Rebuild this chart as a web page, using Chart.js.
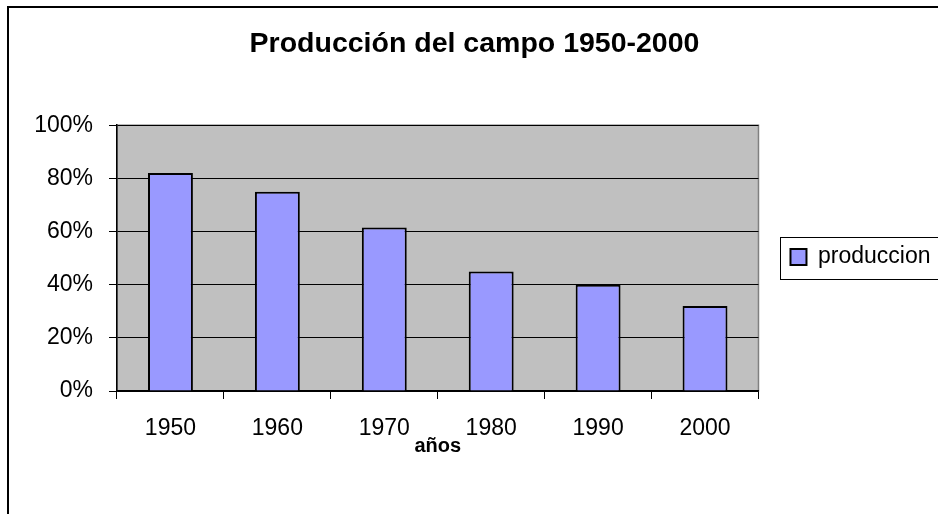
<!DOCTYPE html>
<html>
<head>
<meta charset="utf-8">
<script src="https://cdn.jsdelivr.net/npm/chart.js@4"></script>
<style>
  html, body { margin: 0; padding: 0; background: #ffffff; }
  #wrap { width: 938px; height: 514px; }
</style>
</head>
<body>
<div id="wrap"><canvas id="c" width="938" height="514"></canvas></div>
<script>
const categories = ['1950', '1960', '1970', '1980', '1990', '2000'];
const produccion = [82, 75, 61.5, 45, 40, 32];
const yTicks = [0, 20, 40, 60, 80, 100];
const seriesName = 'produccion';
const chartTitle = 'Producción del campo 1950-2000';
const xTitle = 'años';

const FONT = "'Liberation Sans', Arial, sans-serif";

const framePlugin = {
  id: 'framePlugin',
  beforeDraw(chart) {
    const ctx = chart.ctx;
    const a = chart.chartArea;
    ctx.save();
    ctx.fillStyle = '#ffffff';
    ctx.fillRect(0, 0, chart.width, chart.height);
    ctx.strokeStyle = '#000000';
    ctx.lineWidth = 2;
    ctx.strokeRect(8, 7, chart.width + 20, chart.height + 20);
    ctx.fillStyle = '#C0C0C0';
    ctx.fillRect(a.left, a.top, a.right - a.left, a.bottom - a.top);
    ctx.strokeStyle = '#808080';
    ctx.lineWidth = 1.5;
    ctx.strokeRect(a.left, a.top, a.right - a.left, a.bottom - a.top);
    ctx.restore();
  },
  afterDraw(chart) {
    const lg = chart.legend;
    if (!lg || !lg.legendHitBoxes || !lg.legendHitBoxes.length) return;
    const hb = lg.legendHitBoxes[0];
    const ctx = chart.ctx;
    ctx.save();
    ctx.strokeStyle = '#000000';
    ctx.lineWidth = 1;
    ctx.strokeRect(Math.round(hb.left - 10) + 0.5, Math.round(hb.top - 9) + 0.5, chart.width, 42);
    ctx.restore();
  }
};

new Chart(document.getElementById('c'), {
  type: 'bar',
  data: {
    labels: categories,
    datasets: [{
      label: seriesName,
      data: produccion,
      backgroundColor: '#9999FF',
      borderColor: '#000000',
      borderWidth: 2,
      barPercentage: 0.42,
      categoryPercentage: 1.0
    }]
  },
  options: {
    responsive: false,
    animation: false,
    devicePixelRatio: 1,
    layout: { padding: { left: 8.5, right: -2.5, top: 0, bottom: 0 } },
    plugins: {
      title: {
        display: true,
        text: chartTitle,
        color: '#000000',
        font: { family: FONT, size: 28.5, weight: 'bold' },
        padding: { top: 27, bottom: 64 }
      },
      legend: {
        display: true,
        position: 'right',
        align: 'center',
        labels: {
          color: '#000000',
          font: { family: FONT, size: 23 },
          boxWidth: 16,
          boxHeight: 16,
          padding: 32
        }
      },
      tooltip: { enabled: false }
    },
    scales: {
      x: {
        offset: true,
        grid: {
          offset: true,
          drawOnChartArea: false,
          drawTicks: true,
          tickLength: 8,
          color: '#000000',
          lineWidth: 1
        },
        border: { display: true, color: '#000000', width: 1.5 },
        ticks: {
          color: '#000000',
          font: { family: FONT, size: 23 },
          padding: 16,
          maxRotation: 0
        },
        title: {
          display: true,
          text: xTitle,
          color: '#000000',
          font: { family: FONT, size: 20, weight: 'bold' },
          padding: { top: 56, bottom: 56 }
        },
        afterFit(scale) { scale.height = 123; }
      },
      y: {
        min: 0,
        max: 100,
        afterBuildTicks(scale) { scale.ticks = yTicks.map(v => ({ value: v })); },
        grid: {
          drawTicks: true,
          tickLength: 8,
          color: '#000000',
          lineWidth: 1
        },
        border: { display: true, color: '#000000', width: 1.5 },
        ticks: {
          color: '#000000',
          font: { family: FONT, size: 23 },
          padding: 16,
          callback: (v) => v + '%'
        },
        afterFit(scale) { scale.width = 108.5; }
      }
    }
  },
  plugins: [framePlugin]
});
</script>
</body>
</html>
